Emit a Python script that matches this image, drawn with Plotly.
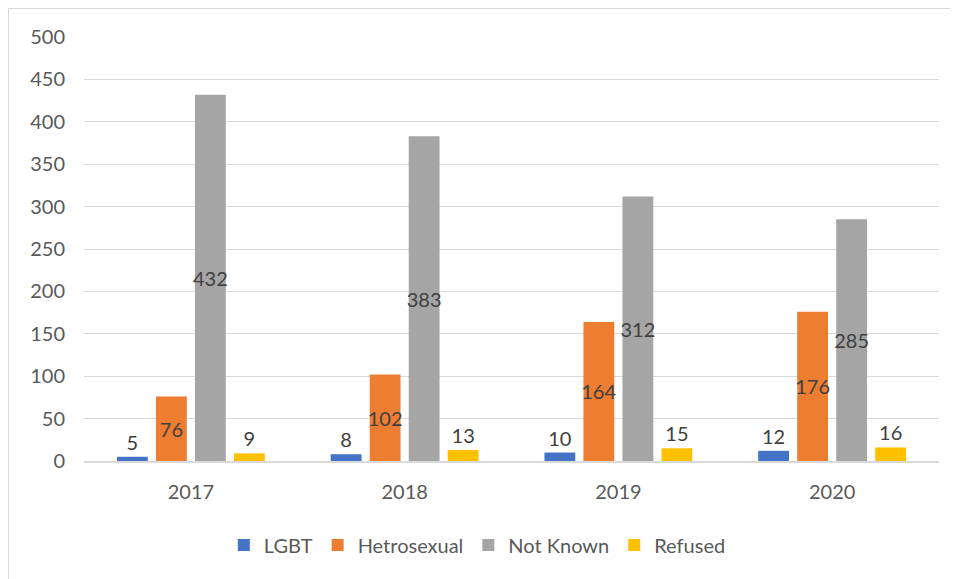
import plotly.graph_objects as go

# data
years = ['2017', '2018', '2019', '2020']
lgbt = [5, 8, 10, 12]
hetrosexual = [76, 102, 164, 176]
not_known = [432, 383, 312, 285]
refused = [9, 13, 15, 16]

FONT = 'Lato'
LABEL_COLOR = '#404040'
TICK_COLOR = '#595959'
GRID = '#d9d9d9'

series = [
    ('LGBT', lgbt, '#4472C4', 'outside'),
    ('Hetrosexual', hetrosexual, '#ED7D31', 'inside'),
    ('Not Known', not_known, '#A5A5A5', 'inside'),
    ('Refused', refused, '#FFC000', 'outside'),
]

fig = go.Figure()
for name, vals, color, pos in series:
    fig.add_trace(go.Bar(
        x=years, y=vals, name=name,
        marker=dict(color=color, line=dict(width=0)),
        text=[str(v) for v in vals],
        textposition=pos,
        insidetextanchor='middle',
        textangle=0,
        constraintext='none',
        textfont=dict(family=FONT, size=20, color=LABEL_COLOR),
        cliponaxis=False,
    ))

# page body has an 8px margin, so the plot area is placed 8px up/left
fig.update_layout(
    width=958, height=579,
    margin=dict(l=76, r=27, t=29, b=126),
    paper_bgcolor='white', plot_bgcolor='white',
    barmode='group', bargap=0.27, bargroupgap=0.21,
    font=dict(family=FONT, size=20, color=TICK_COLOR),
    legend=dict(
        orientation='h', x=0.46, xanchor='center', y=-0.198, yanchor='middle',
        font=dict(family=FONT, size=20, color=TICK_COLOR),
        itemclick=False,
    ),
    xaxis=dict(
        showgrid=False, showline=True, linecolor=GRID, linewidth=2,
        ticks='', ticklabelstandoff=12,
        tickfont=dict(family=FONT, size=20, color=TICK_COLOR),
    ),
    yaxis=dict(
        range=[0, 500], dtick=50, showgrid=True, gridcolor=GRID, gridwidth=1,
        zeroline=False, showline=False, ticks='', ticklabelstandoff=18,
        tickfont=dict(family=FONT, size=20, color=TICK_COLOR),
    ),
)

# chart area border (left and top edges visible)
fig.add_shape(type='line', xref='paper', yref='paper',
              x0=-0.0889, x1=1.05, y0=1.0684, y1=1.0684,
              line=dict(color=GRID, width=2))
fig.add_shape(type='line', xref='paper', yref='paper',
              x0=-0.0889, x1=-0.0889, y0=1.0684, y1=-0.35,
              line=dict(color=GRID, width=2))

fig.write_html('out.html')
